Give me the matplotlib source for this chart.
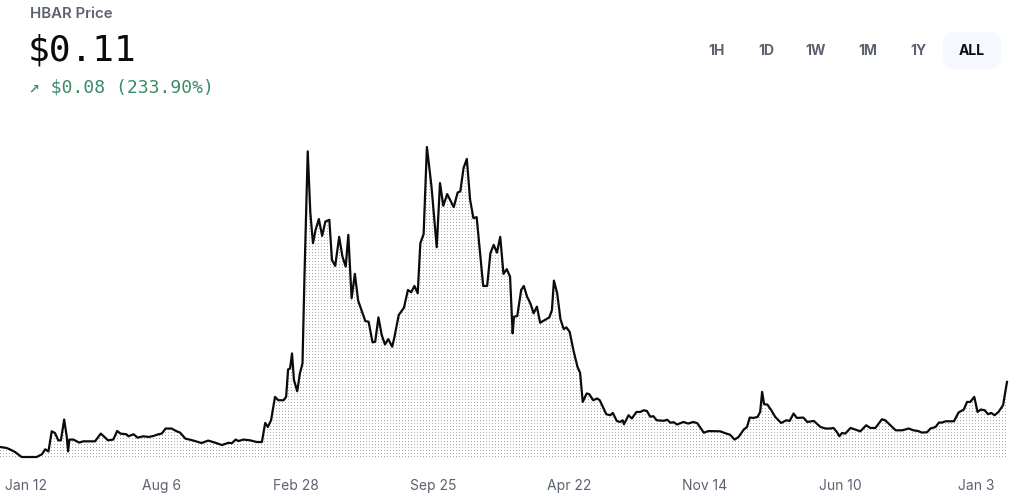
import matplotlib
matplotlib.use("Agg")
import matplotlib.pyplot as plt
from matplotlib.patches import FancyBboxPatch
import numpy as np
import pandas as pd

# HBAR price history, all-time view
start_date = "2019-12-04"
days = [0, 10, 15, 23, 33, 56, 64, 69, 74, 79, 84, 89, 93, 98, 102, 104, 106, 112, 121, 127,
        145, 154, 165, 173, 179, 184, 193, 196, 204, 210, 219, 227, 234, 242, 247, 253, 262, 270, 275, 283,
        294, 308, 318, 329, 339, 349, 354, 360, 364, 372, 382, 392, 400, 405, 409, 414, 420, 425, 433, 437,
        440, 443, 446, 449, 454, 458, 462, 465, 470, 474, 478, 482, 487, 492, 497, 503, 507, 512, 518, 523,
        528, 532, 537, 542, 547, 558, 563, 569, 573, 578, 583, 588, 593, 599, 602, 609, 617, 623, 628, 633,
        638, 642, 647, 652, 659, 667, 672, 677, 683, 693, 699, 703, 708, 713, 718, 723, 728, 735, 738, 744,
        749, 754, 759, 764, 769, 774, 779, 783, 785, 790, 796, 800, 805, 810, 815, 820, 825, 839, 843, 846,
        851, 856, 861, 865, 870, 876, 882, 886, 890, 896, 900, 906, 912, 916, 926, 932, 936, 942, 947, 951,
        953, 960, 965, 972, 978, 983, 988, 993, 998, 1003, 1014, 1019, 1024, 1029, 1034, 1044, 1051, 1059, 1065, 1075,
        1082, 1100, 1108, 1115, 1122, 1128, 1136, 1141, 1145, 1151, 1157, 1161, 1164, 1167, 1172, 1178, 1184, 1193, 1201, 1206,
        1212, 1217, 1227, 1233, 1243, 1253, 1261, 1268, 1273, 1278, 1282, 1286, 1291, 1299, 1306, 1314, 1323, 1329, 1337, 1347,
        1352, 1360, 1368, 1378, 1388, 1395, 1402, 1408, 1416, 1421, 1429, 1434, 1439, 1444, 1457, 1464, 1472, 1477, 1482, 1488,
        1493, 1498, 1504, 1509, 1514, 1519, 1525, 1532, 1538]
prices = [0.0323, 0.0311, 0.0295, 0.0263, 0.0204, 0.0204, 0.0236, 0.0295, 0.0271, 0.0509,
          0.0489, 0.0402, 0.0402, 0.0649, 0.0442, 0.0271, 0.0411, 0.0411, 0.0375, 0.0390,
          0.0390, 0.0482, 0.0402, 0.0411, 0.0513, 0.0482, 0.0474, 0.0450, 0.0474, 0.0434,
          0.0450, 0.0442, 0.0453, 0.0474, 0.0482, 0.0542, 0.0542, 0.0509, 0.0494, 0.0423,
          0.0402, 0.0370, 0.0399, 0.0373, 0.0346, 0.0373, 0.0367, 0.0411, 0.0394, 0.0411,
          0.0402, 0.0382, 0.0382, 0.0608, 0.0561, 0.0640, 0.0918, 0.0878, 0.0878, 0.0918,
          0.1244, 0.1256, 0.1434, 0.1116, 0.0985, 0.1196, 0.1315, 0.2346, 0.3833, 0.3100,
          0.2743, 0.2901, 0.3029, 0.2830, 0.3000, 0.3020, 0.2544, 0.2473, 0.2818, 0.2584,
          0.2465, 0.2842, 0.2089, 0.2378, 0.2060, 0.1818, 0.1810, 0.1565, 0.1572, 0.1862,
          0.1652, 0.1541, 0.1604, 0.1513, 0.1613, 0.1890, 0.1977, 0.2187, 0.2160, 0.2235,
          0.2148, 0.2743, 0.2850, 0.3885, 0.3417, 0.2695, 0.3457, 0.3187, 0.3326, 0.3171,
          0.3345, 0.3357, 0.3636, 0.3743, 0.3258, 0.3041, 0.3052, 0.2485, 0.2235, 0.2235,
          0.2624, 0.2723, 0.2631, 0.2818, 0.2378, 0.2434, 0.2346, 0.1672, 0.1870, 0.1878,
          0.2187, 0.2235, 0.2108, 0.2029, 0.1910, 0.1989, 0.1798, 0.1862, 0.1949, 0.2298,
          0.2148, 0.1839, 0.1723, 0.1743, 0.1691, 0.1465, 0.1275, 0.1203, 0.0858, 0.0958,
          0.0950, 0.0878, 0.0899, 0.0878, 0.0712, 0.0700, 0.0727, 0.0632, 0.0620, 0.0640,
          0.0593, 0.0700, 0.0661, 0.0739, 0.0739, 0.0759, 0.0751, 0.0684, 0.0688, 0.0640,
          0.0634, 0.0646, 0.0611, 0.0617, 0.0590, 0.0620, 0.0601, 0.0620, 0.0605, 0.0492,
          0.0512, 0.0509, 0.0486, 0.0468, 0.0411, 0.0442, 0.0530, 0.0561, 0.0672, 0.0668,
          0.0680, 0.0739, 0.0977, 0.0831, 0.0827, 0.0759, 0.0680, 0.0608, 0.0640, 0.0632,
          0.0720, 0.0668, 0.0672, 0.0620, 0.0632, 0.0561, 0.0542, 0.0542, 0.0549, 0.0503,
          0.0450, 0.0489, 0.0482, 0.0549, 0.0530, 0.0509, 0.0581, 0.0549, 0.0549, 0.0652,
          0.0640, 0.0581, 0.0521, 0.0521, 0.0542, 0.0521, 0.0513, 0.0494, 0.0498, 0.0542,
          0.0561, 0.0613, 0.0613, 0.0628, 0.0628, 0.0732, 0.0768, 0.0858, 0.0858, 0.0918,
          0.0739, 0.0768, 0.0759, 0.0712, 0.0727, 0.0700, 0.0739, 0.0819, 0.1096]

tick_dates = ["2020-01-12", "2020-08-06", "2021-02-28", "2021-09-25",
              "2022-04-22", "2022-11-14", "2023-06-10", "2024-01-03"]
tick_labels = ["Jan 12", "Aug 6", "Feb 28", "Sep 25", "Apr 22", "Nov 14", "Jun 10", "Jan 3"]
ranges = ["1H", "1D", "1W", "1M", "1Y", "ALL"]

W, H = 1024, 499
fig = plt.figure(figsize=(W / 100, H / 100), dpi=100)
fig.patch.set_facecolor("white")

# plot area: 1007 x 310 px, bottom edge at y=457 from top
ax = fig.add_axes([0, 42 / H, 1007 / W, 310 / H])
ax.set_xlim(0, days[-1])
ymin, ymax = min(prices), max(prices)
ax.set_ylim(ymin, ymax)
for s in ax.spines.values():
    s.set_visible(False)

# dotted area fill: a dot grid clipped to the area under the line
poly = ax.fill_between(days, prices, ymin, facecolor="none", edgecolor="none")
pat = np.ones((310, 1007, 4))
pat[::3, ::3, :3] = 0.66
im = ax.imshow(pat, extent=[0, days[-1], ymin, ymax], aspect="auto",
               interpolation="nearest", zorder=1)
im.set_clip_path(poly.get_paths()[0], ax.transData)

ax.plot(days, prices, color="#0a0b0d", lw=1.6, zorder=3, clip_on=False)

start = pd.Timestamp(start_date)
tick_pos = [(pd.Timestamp(d) - start).days for d in tick_dates]
ax.set_xticks(tick_pos)
ax.set_xticklabels(tick_labels, fontsize=10, color="#5b616e", family=["Inter", "DejaVu Sans"])
ax.tick_params(axis="x", length=0, pad=16)
ax.set_yticks([])

# header
fig.text(30 / W, 1 - 14 / H, "HBAR Price", fontsize=10.8, color="#5b616e",
         fontweight="semibold", family=["Inter", "DejaVu Sans"], va="center", ha="left")
fig.text(28 / W, 1 - 50 / H, "$0.11", fontsize=26, color="#0a0b0d",
         family=["DejaVu Sans Mono"], va="center", ha="left")
fig.text(29 / W, 1 - 87 / H, "\u2197 $0.08 (233.90%)", fontsize=13, color="#3a8b68",
         family=["DejaVu Sans Mono", "DejaVu Sans"], va="center", ha="left")

# range selector
btn_x = [716.7, 766.7, 816, 867.7, 918.3, 971.7]
sel = FancyBboxPatch((943 / W, 1 - 69 / H), 58 / W, 37 / H,
                     boxstyle="round,pad=0,rounding_size=0.012",
                     transform=fig.transFigure, facecolor="#f5f8ff", edgecolor="none",
                     mutation_aspect=W / H)
fig.patches.append(sel)
for bx, r in zip(btn_x, ranges):
    fig.text(bx / W, 1 - 51 / H, r, fontsize=10, fontweight="bold",
             color="#0a0b0d" if r == "ALL" else "#5b616e",
             family=["Inter", "DejaVu Sans"], va="center", ha="center")

fig.savefig("out.png", dpi=100)
